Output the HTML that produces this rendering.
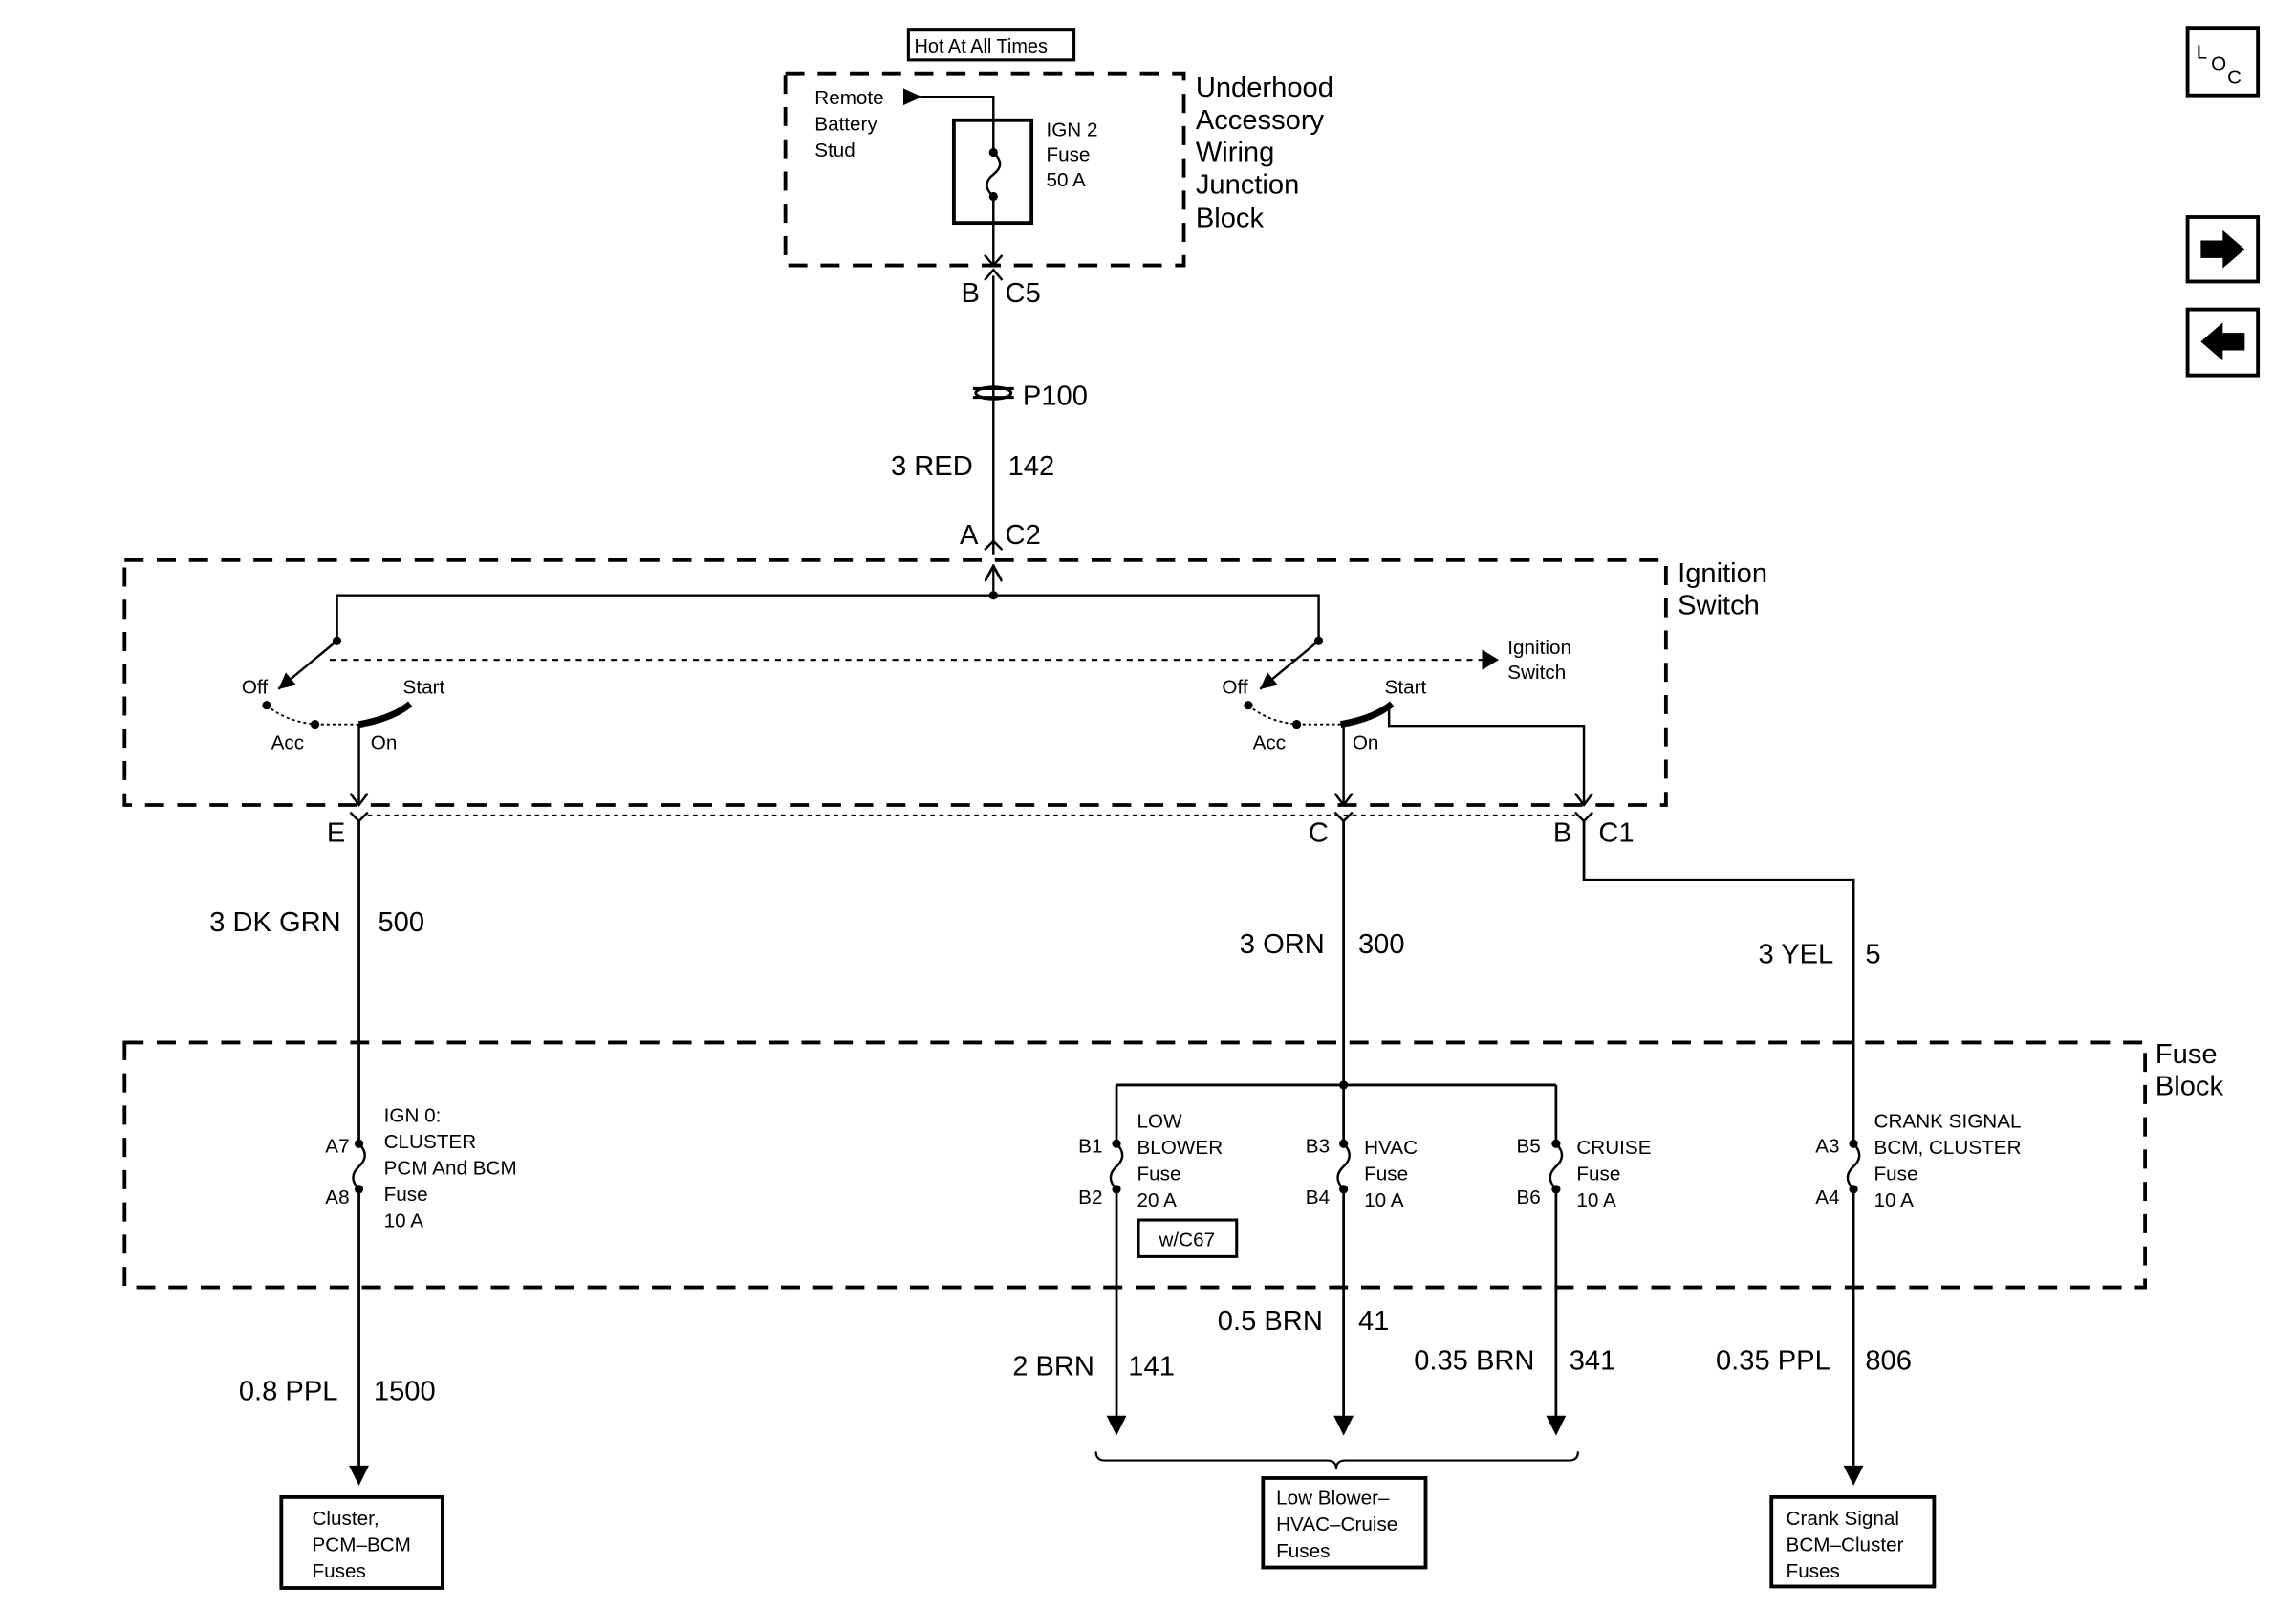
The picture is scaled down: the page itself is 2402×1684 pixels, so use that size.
<!DOCTYPE html>
<html><head><style>html,body{margin:0;padding:0;background:#fff}svg{display:block}text{font-family:"Liberation Sans",sans-serif;fill:#000}</style></head>
<body>
<svg width="2402" height="1684" viewBox="0 0 1567 1098" preserveAspectRatio="none" xmlns="http://www.w3.org/2000/svg">
<defs>
<marker id="ar" viewBox="0 0 10 10" refX="10" refY="5" markerWidth="7" markerHeight="7" orient="auto-start-reverse"><path d="M0,0 L10,5 L0,10 z" fill="#000"/></marker>
<marker id="op" viewBox="0 0 10 10" refX="9" refY="5" markerWidth="8" markerHeight="8" orient="auto"><path d="M0,0 L9,5 L0,10" fill="none" stroke="#000" stroke-width="1.5"/></marker>
</defs>
<g fill="none" stroke="#000">
<rect x="620" y="20" width="113" height="21" stroke-width="2"/>
<rect x="536" y="50" width="272" height="131" stroke-width="2.5" stroke-dasharray="13,9"/>
<path d="M628,66 H678 V180" stroke-width="1.6"/>
<path d="M617,61 L628,66 L617,71 z" fill="#000"/>
<rect x="651" y="82" width="53" height="70" stroke-width="2.5"/>
<path d="M672,174 L678,181 L684,174 M672,191 L678,184 L684,191" stroke-width="1.6"/>
<path d="M678,188 V378" stroke-width="1.6"/>
<path d="M664,265 H692 M664,271 H692" stroke-width="2"/>
<ellipse cx="678" cy="268" rx="12" ry="4" stroke-width="2"/>
<path d="M672,375 L678,369 L684,375" stroke-width="1.6"/>
<rect x="85" y="382" width="1052" height="167" stroke-width="2.5" stroke-dasharray="13,9"/>
<path d="M678,406 V386" stroke-width="1.5" marker-end="url(#op)"/>
<path d="M230,437 V406 H900 V437" stroke-width="1.6"/>
<path d="M230,437 L190,470" stroke-width="1.6" marker-end="url(#ar)"/>
<path d="M900,437 L860,470" stroke-width="1.6" marker-end="url(#ar)"/>
<path d="M225,450 H1012" stroke-width="1.4" stroke-dasharray="4,4"/>
<path d="M1012,444 L1022,450 L1012,456 z" fill="#000"/>
<path d="M182,481 Q195,492 215,494 M215,494 H245 M852,481 Q865,492 885,494 M885,494 H915" stroke-width="1.2" stroke-dasharray="2,2"/>
<path d="M245,494 Q268,490 280,480 M915,494 Q938,490 950,480" stroke-width="4.5"/>
<path d="M245,494 V549 M917,494 V549" stroke-width="1.6"/>
<path d="M239,541 L245,549 L251,541 M911,541 L917,549 L923,541 M1075,541 L1081,549 L1087,541" stroke-width="1.6"/>
<path d="M948,481 V495 H1081 V549" stroke-width="1.6"/>
<path d="M239,554 L245,560 L251,554 M911,554 L917,560 L923,554 M1075,554 L1081,560 L1087,554" stroke-width="1.6"/>
<path d="M251,556 H1075" stroke-width="1.2" stroke-dasharray="3,3"/>
<path d="M245,560 V1000 M917,560 V740 M1081,560 V600 H1265 V1000" stroke-width="1.8"/>
<path d="M239,1000 L245,1012 L251,1000 z M1259,1000 L1265,1012 L1271,1000 z" fill="#000"/>
<rect x="85" y="711" width="1379" height="167" stroke-width="2.5" stroke-dasharray="13,9"/>
<path d="M762,740 H1062 M762,740 V966 M917,740 V966 M1062,740 V966" stroke-width="1.8"/>
<path d="M756,966 L762,978 L768,966 z M911,966 L917,978 L923,966 z M1056,966 L1062,978 L1068,966 z" fill="#000"/>
<rect x="777" y="832" width="67" height="25" stroke-width="2"/>
<path d="M748,990 q0,6 6,6 H906 q6,0 6,6 q0,-6 6,-6 H1071 q6,0 6,-6" stroke-width="1.4"/>
<rect x="192" y="1021" width="110" height="62" stroke-width="2.5"/>
<rect x="862" y="1008" width="111" height="61" stroke-width="2.5"/>
<rect x="1209" y="1021" width="111" height="61" stroke-width="2.5"/>
<rect x="1493" y="19" width="48" height="46" stroke-width="2.5"/>
<rect x="1493" y="148" width="48" height="44" stroke-width="2.5"/>
<rect x="1493" y="211" width="48" height="45" stroke-width="2.5"/>
</g>
<g stroke-width="1.8">
<line x1="678" y1="105" x2="678" y2="133" stroke="#fff" stroke-width="4"/>
<line x1="245" y1="780" x2="245" y2="811" stroke="#fff" stroke-width="4"/>
<line x1="762" y1="780" x2="762" y2="811" stroke="#fff" stroke-width="4"/>
<line x1="917" y1="780" x2="917" y2="811" stroke="#fff" stroke-width="4"/>
<line x1="1062" y1="780" x2="1062" y2="811" stroke="#fff" stroke-width="4"/>
<line x1="1265" y1="780" x2="1265" y2="811" stroke="#fff" stroke-width="4"/>
<g fill="none" stroke="#000" stroke-width="1.6">
<path d="M678,104 q9,8 0,15 q-9,7 0,15"/>
<path d="M245,780 q8,8 0,15.5 q-8,7.5 0,15.5"/>
<path d="M762,780 q8,8 0,15.5 q-8,7.5 0,15.5"/>
<path d="M917,780 q8,8 0,15.5 q-8,7.5 0,15.5"/>
<path d="M1062,780 q8,8 0,15.5 q-8,7.5 0,15.5"/>
<path d="M1265,780 q8,8 0,15.5 q-8,7.5 0,15.5"/>
</g>
</g>
<g fill="#000">
<circle cx="678" cy="104" r="3"/><circle cx="678" cy="134" r="3"/><circle cx="678" cy="406" r="3"/>
<circle cx="230" cy="437" r="3"/><circle cx="900" cy="437" r="3"/>
<circle cx="182" cy="481" r="3"/><circle cx="215" cy="494" r="3"/><circle cx="852" cy="481" r="3"/><circle cx="885" cy="494" r="3"/>
<circle cx="917" cy="740" r="3"/>
<circle cx="245" cy="780" r="3"/><circle cx="245" cy="811" r="3"/>
<circle cx="762" cy="780" r="3"/><circle cx="762" cy="811" r="3"/>
<circle cx="917" cy="780" r="3"/><circle cx="917" cy="811" r="3"/>
<circle cx="1062" cy="780" r="3"/><circle cx="1062" cy="811" r="3"/>
<circle cx="1265" cy="780" r="3"/><circle cx="1265" cy="811" r="3"/>
<path d="M1502,164 H1517 V157 L1532,170 L1517,183 V176 H1502 z"/>
<path d="M1532,227 H1517 V220 L1502,233 L1517,246 V239 H1532 z"/>
</g>
<g font-size="13.5">
<text x="624" y="36" font-size="13">Hot At All Times</text>
<text x="556" y="71">Remote</text><text x="556" y="89">Battery</text><text x="556" y="107">Stud</text>
<text x="714" y="93">IGN 2</text><text x="714" y="110">Fuse</text><text x="714" y="127">50 A</text>
<text x="1029" y="446">Ignition</text><text x="1029" y="463">Switch</text>
<text x="165" y="473">Off</text><text x="275" y="473">Start</text><text x="185" y="511">Acc</text><text x="253" y="511">On</text>
<text x="834" y="473">Off</text><text x="945" y="473">Start</text><text x="855" y="511">Acc</text><text x="923" y="511">On</text>
<text x="222" y="786">A7</text><text x="222" y="821">A8</text>
<text x="262" y="765">IGN 0:</text><text x="262" y="783">CLUSTER</text><text x="262" y="801">PCM And BCM</text><text x="262" y="819">Fuse</text><text x="262" y="837">10 A</text>
<text x="736" y="786">B1</text><text x="736" y="821">B2</text>
<text x="776" y="769">LOW</text><text x="776" y="787">BLOWER</text><text x="776" y="805">Fuse</text><text x="776" y="823">20 A</text>
<text x="791" y="850">w/C67</text>
<text x="891" y="786">B3</text><text x="891" y="821">B4</text>
<text x="931" y="787">HVAC</text><text x="931" y="805">Fuse</text><text x="931" y="823">10 A</text>
<text x="1035" y="786">B5</text><text x="1035" y="821">B6</text>
<text x="1076" y="787">CRUISE</text><text x="1076" y="805">Fuse</text><text x="1076" y="823">10 A</text>
<text x="1239" y="786">A3</text><text x="1239" y="821">A4</text>
<text x="1279" y="769">CRANK SIGNAL</text><text x="1279" y="787">BCM, CLUSTER</text><text x="1279" y="805">Fuse</text><text x="1279" y="823">10 A</text>
<text x="213" y="1040">Cluster,</text><text x="213" y="1058">PCM–BCM</text><text x="213" y="1076">Fuses</text>
<text x="871" y="1026">Low Blower–</text><text x="871" y="1044">HVAC–Cruise</text><text x="871" y="1062">Fuses</text>
<text x="1219" y="1040">Crank Signal</text><text x="1219" y="1058">BCM–Cluster</text><text x="1219" y="1076">Fuses</text>
<text x="1499" y="40">L</text><text x="1509" y="48">O</text><text x="1520" y="57">C</text>
</g>
<g font-size="19">
<text x="816" y="66">Underhood</text><text x="816" y="88">Accessory</text><text x="816" y="110">Wiring</text><text x="816" y="132">Junction</text><text x="816" y="155">Block</text>
<text x="656" y="206">B</text><text x="686" y="206">C5</text>
<text x="698" y="276">P100</text>
<text x="608" y="324">3 RED</text><text x="688" y="324">142</text>
<text x="655" y="371">A</text><text x="686" y="371">C2</text>
<text x="1145" y="397">Ignition</text><text x="1145" y="419">Switch</text>
<text x="223" y="574">E</text><text x="893" y="574">C</text><text x="1060" y="574">B</text><text x="1091" y="574">C1</text>
<text x="143" y="635">3 DK GRN</text><text x="258" y="635">500</text>
<text x="846" y="650">3 ORN</text><text x="927" y="650">300</text>
<text x="1200" y="657">3 YEL</text><text x="1273" y="657">5</text>
<text x="1471" y="725">Fuse</text><text x="1471" y="747">Block</text>
<text x="831" y="907">0.5 BRN</text><text x="927" y="907">41</text>
<text x="691" y="938">2 BRN</text><text x="770" y="938">141</text>
<text x="965" y="934">0.35 BRN</text><text x="1071" y="934">341</text>
<text x="1171" y="934">0.35 PPL</text><text x="1273" y="934">806</text>
<text x="163" y="955">0.8 PPL</text><text x="255" y="955">1500</text>
</g>
</svg>
</body></html>
